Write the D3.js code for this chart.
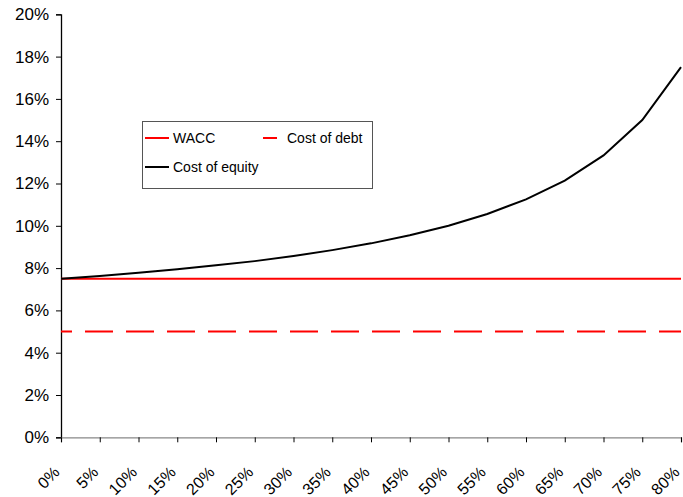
<!DOCTYPE html>
<html>
<head>
<meta charset="utf-8">
<script src="https://cdn.jsdelivr.net/npm/d3@7"></script>
<style>
    body { margin: 0; background: #fff; }
    svg { display: block; font-family: "Liberation Sans", Arial, sans-serif; }
</style>
</head>
<body>
<svg width="683" height="497"></svg>
<script>
(function () {
    'use strict'

    // debt ratio (D / V), in percent
    const debtRatio = [0, 5, 10, 15, 20, 25, 30, 35, 40, 45, 50, 55, 60, 65, 70, 75, 80];

    const wacc = [7.5, 7.5, 7.5, 7.5, 7.5, 7.5, 7.5, 7.5, 7.5, 7.5, 7.5, 7.5, 7.5, 7.5, 7.5, 7.5, 7.5];
    const costOfDebt = [5, 5, 5, 5, 5, 5, 5, 5, 5, 5, 5, 5, 5, 5, 5, 5, 5];
    const costOfEquity = [7.5, 7.63, 7.78, 7.94, 8.13, 8.33, 8.57, 8.85, 9.17, 9.55, 10, 10.56, 11.25, 12.14, 13.33, 15, 17.5];

    const yTicks = [0, 2, 4, 6, 8, 10, 12, 14, 16, 18, 20];

    let svg = d3.select('svg'),
        margin = {
            top: 14.3,
            right: 2,
            bottom: 59.7,
            left: 61
        },
        width = +svg.attr('width') - margin.left - margin.right,
        height = +svg.attr('height') - margin.top - margin.bottom,
        g = svg.append('g').attr('transform', 'translate(' + margin.left + ',' + margin.top + ')')

    let x = d3.scaleLinear()
        .domain([0, 80])
        .range([0, width]);

    let y = d3.scaleLinear()
        .domain([0, 20])
        .range([height, 0]);

    // y axis
    let yAxis = g.append('g')
        .attr('class', 'axis axis--y')
        .call(d3.axisLeft(y).tickValues(yTicks).tickSize(5).tickPadding(7).tickFormat(d => d + '%'));

    yAxis.select('.domain').attr('stroke', '#000').attr('stroke-width', 1.3);
    yAxis.selectAll('.tick line').attr('stroke', '#000');
    yAxis.selectAll('text').style('font-size', '17px').attr('fill', '#000');

    // x axis
    let xAxis = g.append('g')
        .attr('class', 'axis axis--x')
        .attr('transform', 'translate(0,' + height + ')')
        .call(d3.axisBottom(x).tickValues(debtRatio).tickSize(5).tickFormat(d => d + '%'));

    xAxis.select('.domain').attr('stroke', '#888').attr('stroke-width', 1.3);
    xAxis.selectAll('.tick line').attr('stroke', '#000');
    xAxis.selectAll('text')
        .attr('x', 0)
        .attr('y', 0)
        .attr('dy', 0)
        .attr('transform', 'translate(-1,36) rotate(-45)')
        .style('text-anchor', 'end')
        .style('font-size', '16px')
        .attr('fill', '#000');

    let line = d3.line()
        .x((d, i) => x(debtRatio[i]))
        .y(d => y(d));

    g.append('path')
        .datum(costOfDebt)
        .attr('fill', 'none')
        .attr('stroke', '#ff0000')
        .attr('stroke-width', 2)
        .attr('stroke-dasharray', '28,13')
        .attr('stroke-dashoffset', 17)
        .attr('d', line);

    g.append('path')
        .datum(wacc)
        .attr('fill', 'none')
        .attr('stroke', '#ff0000')
        .attr('stroke-width', 2)
        .attr('d', line);

    g.append('path')
        .datum(costOfEquity)
        .attr('fill', 'none')
        .attr('stroke', '#000')
        .attr('stroke-width', 2)
        .attr('d', line);

    // legend
    let legend = svg.append('g').attr('transform', 'translate(142,121)');

    legend.append('rect')
        .attr('x', 0.5)
        .attr('y', 0.5)
        .attr('width', 230)
        .attr('height', 67)
        .attr('fill', '#fff')
        .attr('stroke', '#555');

    let items = [
        { name: 'WACC', color: '#ff0000', x: 3, y: 17, x1: 0, x2: 24, tx: 28 },
        { name: 'Cost of debt', color: '#ff0000', x: 3, y: 17, x1: 118, x2: 132, tx: 142 },
        { name: 'Cost of equity', color: '#000', x: 3, y: 46, x1: 0, x2: 24, tx: 28 }
    ];

    items.forEach(function (it) {
        legend.append('line')
            .attr('x1', it.x + it.x1)
            .attr('x2', it.x + it.x2)
            .attr('y1', it.y)
            .attr('y2', it.y)
            .attr('stroke', it.color)
            .attr('stroke-width', 2);

        legend.append('text')
            .attr('x', it.x + it.tx)
            .attr('y', it.y)
            .attr('dy', '0.35em')
            .style('font-size', '14px')
            .attr('fill', '#000')
            .text(it.name);
    });
})();
</script>
</body>
</html>
